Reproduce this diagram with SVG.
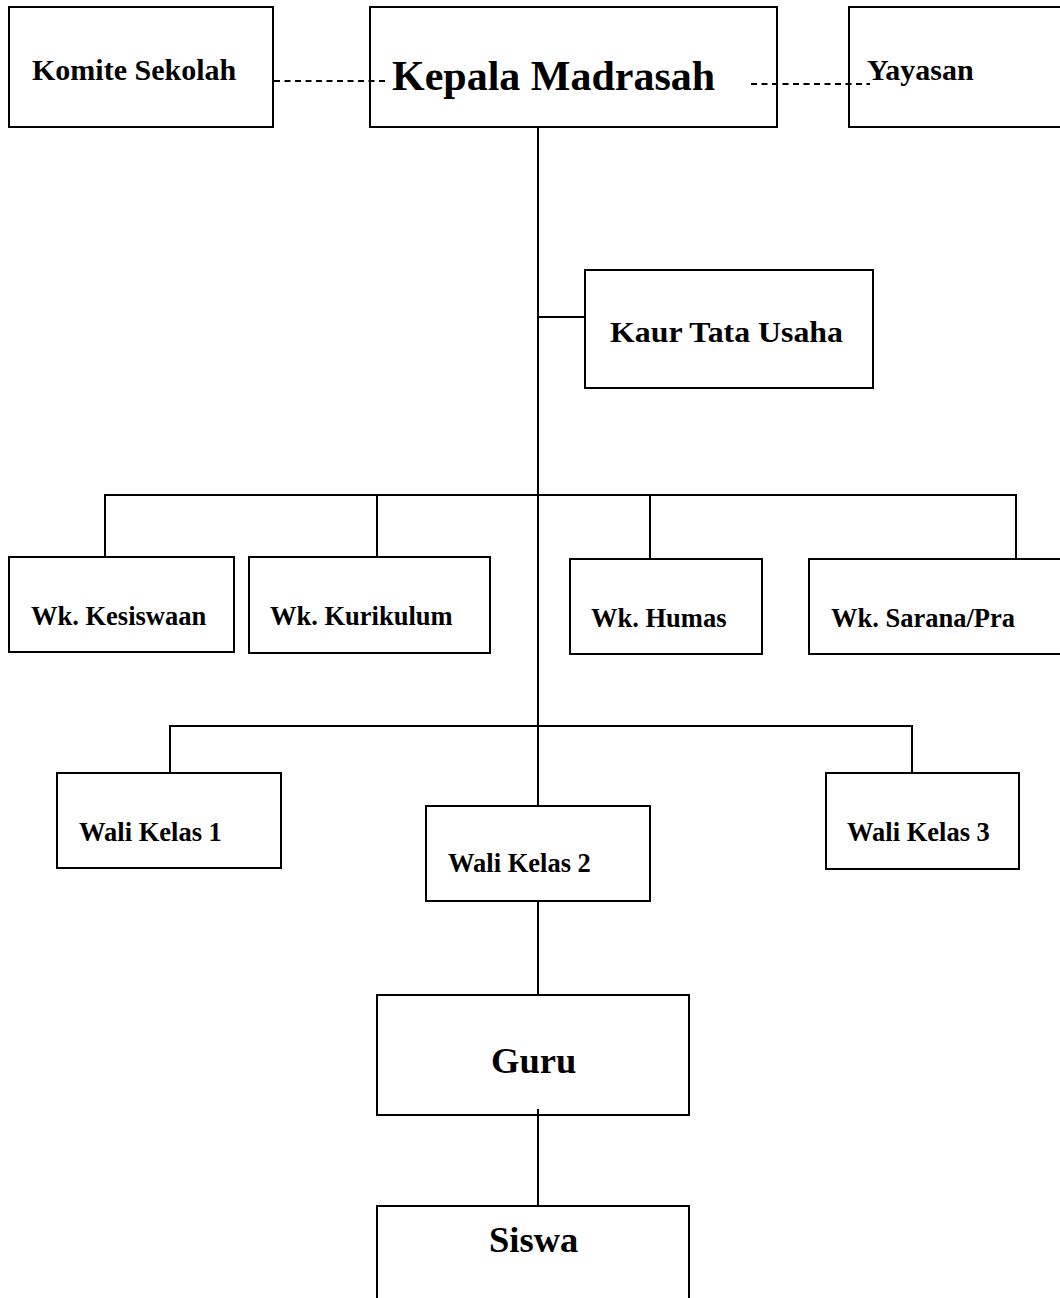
<svg xmlns="http://www.w3.org/2000/svg" width="1060" height="1298" viewBox="0 0 1060 1298">
<style>
.box{fill:#fff;stroke:#000;stroke-width:2}
.ln{stroke:#000;stroke-width:2;fill:none}
.dash{stroke:#000;stroke-width:1.8;stroke-dasharray:6 4.5;fill:none}
text{font-family:"Liberation Serif","Times New Roman",serif;font-weight:bold;fill:#000}
.s{font-size:26.5px}
.m{font-size:30px}
.l{font-size:42px}
.g{font-size:36.5px}
</style>
<rect width="1060" height="1298" fill="#fff"/>
<g id="komite"><rect class="box" x="9" y="7" width="264" height="120"/><text class="m" x="32" y="80">Komite Sekolah</text></g>
<g id="kepala"><rect class="box" x="370" y="7" width="407" height="120"/><text class="l" x="392" y="90">Kepala Madrasah</text></g>
<g id="yayasan"><rect class="box" x="849" y="7" width="220" height="120"/><text class="m" x="867" y="80">Yayasan</text></g>
<g id="kaur"><rect class="box" x="585" y="270" width="288" height="118"/><text class="m" x="610" y="342" textLength="233" lengthAdjust="spacingAndGlyphs">Kaur Tata Usaha</text></g>
<g id="kesiswaan"><rect class="box" x="9" y="557" width="225" height="95"/><text class="s" x="31" y="625">Wk. Kesiswaan</text></g>
<g id="kurikulum"><rect class="box" x="249" y="557" width="241" height="96"/><text class="s" x="270" y="625">Wk. Kurikulum</text></g>
<g id="humas"><rect class="box" x="570" y="559" width="192" height="95"/><text class="s" x="591" y="627">Wk. Humas</text></g>
<g id="sarana"><rect class="box" x="809" y="559" width="260" height="95"/><text class="s" x="831" y="627">Wk. Sarana/Pra</text></g>
<g id="wali1"><rect class="box" x="57" y="773" width="224" height="95"/><text class="s" x="79" y="841">Wali Kelas 1</text></g>
<g id="wali2"><rect class="box" x="426" y="806" width="224" height="95"/><text class="s" x="448" y="872">Wali Kelas 2</text></g>
<g id="wali3"><rect class="box" x="826" y="773" width="193" height="96"/><text class="s" x="847" y="841">Wali Kelas 3</text></g>
<g id="guru"><rect class="box" x="377" y="995" width="312" height="120"/><text class="g" x="491" y="1073">Guru</text></g>
<g id="siswa"><rect class="box" x="377" y="1206" width="312" height="120"/><text class="g" x="489" y="1252">Siswa</text></g>
<g id="connectors">
<line class="dash" x1="274" y1="81" x2="389" y2="81"/>
<line class="dash" x1="751" y1="84" x2="870" y2="84"/>
<line class="ln" x1="538" y1="127" x2="538" y2="806"/>
<line class="ln" x1="538" y1="317" x2="585" y2="317"/>
<line class="ln" x1="104" y1="495" x2="1017" y2="495"/>
<line class="ln" x1="105" y1="495" x2="105" y2="557"/>
<line class="ln" x1="377" y1="495" x2="377" y2="557"/>
<line class="ln" x1="650" y1="495" x2="650" y2="559"/>
<line class="ln" x1="1016" y1="495" x2="1016" y2="559"/>
<line class="ln" x1="169" y1="726" x2="913" y2="726"/>
<line class="ln" x1="170" y1="726" x2="170" y2="773"/>
<line class="ln" x1="912" y1="726" x2="912" y2="773"/>
<line class="ln" x1="538" y1="901" x2="538" y2="995"/>
<line class="ln" x1="538" y1="1109" x2="538" y2="1206"/>
</g>
</svg>
